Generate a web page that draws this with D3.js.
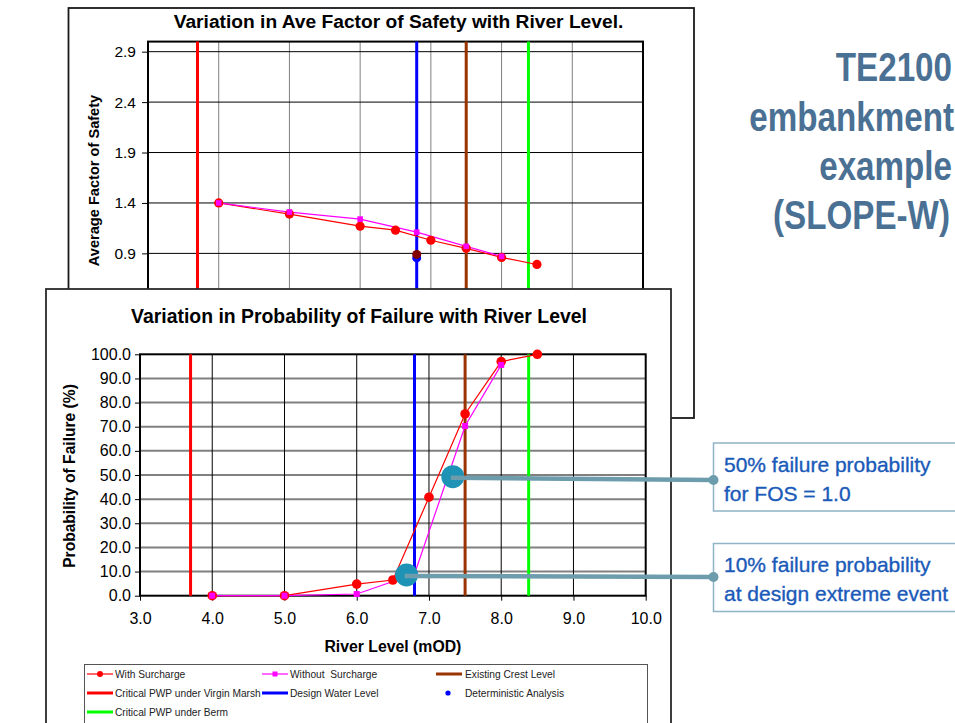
<!DOCTYPE html>
<html><head><meta charset="utf-8">
<script src="https://cdn.jsdelivr.net/npm/d3@7/dist/d3.min.js"></script>
<style>
body{margin:0;background:#fff}
svg{display:block}
text{font-family:"Liberation Sans",Arial,Helvetica,sans-serif}
</style>
</head><body>
<svg id="c" width="955" height="723"></svg>
<script>
// ---------- DATA ----------
const riverWith      = [4.0, 5.0, 6.0, 6.5, 7.0, 7.5, 8.0, 8.5];
const fosWith        = [1.40, 1.29, 1.17, 1.13, 1.03, 0.95, 0.86, 0.79];
const pofWith        = [0, 0, 4.8, 6.5, 40.8, 75.3, 97.0, 100.0];
const riverWithout   = [4.0, 5.0, 6.0, 6.8, 7.5, 8.0];
const fosWithout     = [1.40, 1.31, 1.24, 1.11, 0.97, 0.87];
const pofWithout     = [0, 0, 0.7, 9.0, 70.3, 95.6];
const detLevel       = [6.8];
const detFos         = [0.855];
const detFosSurch    = [0.89];
const refNames       = ["Critical PWP under Virgin Marsh", "Design Water Level", "Existing Crest Level", "Critical PWP under Berm"];
const refLevels      = [3.7, 6.8, 7.5, 8.38];
const levelTicks     = [3.0, 4.0, 5.0, 6.0, 7.0, 8.0, 9.0, 10.0];
const fosTicks       = [0.4, 0.9, 1.4, 1.9, 2.4, 2.9];
const pofTicks       = [0, 10, 20, 30, 40, 50, 60, 70, 80, 90, 100];
const calloutLevel   = [7.33, 6.69];
const calloutPof     = [49.3, 8.6];
const calloutText    = [["50% failure probability", "for FOS = 1.0"], ["10% failure probability", "at design extreme event"]];
const sideTitle      = ["TE2100", "embankment", "example", "(SLOPE-W)"];
const titleTop       = "Variation in Ave Factor of Safety with River Level.";
const titleBottom    = "Variation in Probability of Failure with River Level";

// ---------- STYLE ----------
const refColors = ["#ff0000", "#0000ff", "#993300", "#00ff00"];
const RED = "#ff0000", MAG = "#ff00ff";

const svg = d3.select("#c");

// ================= TOP CHART =================
svg.append("rect").attr("x", 68.5).attr("y", 8).attr("width", 625.5).attr("height", 410)
  .attr("fill", "#fff").attr("stroke", "#1a1a1a").attr("stroke-width", 1.8);

const xT = d3.scaleLinear().domain([3, 10]).range([148, 643]);
const yT = d3.scaleLinear().domain([0.4, 3.0]).range([303.8, 41.6]);
const gT = svg.append("g");

gT.selectAll("line.vg").data(levelTicks.slice(1, -1)).join("line")
  .attr("x1", d => xT(d)).attr("x2", d => xT(d)).attr("y1", yT(3.0)).attr("y2", yT(0.4))
  .attr("stroke", "#808080").attr("stroke-width", 1);
gT.selectAll("line.hg").data(fosTicks).join("line")
  .attr("x1", xT(3)).attr("x2", xT(10)).attr("y1", d => yT(d)).attr("y2", d => yT(d))
  .attr("stroke", "#000").attr("stroke-width", 1);
gT.append("rect").attr("x", xT(3)).attr("y", yT(3.0)).attr("width", xT(10) - xT(3)).attr("height", yT(0.4) - yT(3.0))
  .attr("fill", "none").attr("stroke", "#000").attr("stroke-width", 2);

const axT = gT.append("g").attr("transform", `translate(${xT(3)},0)`)
  .call(d3.axisLeft(yT).tickValues(fosTicks).tickSize(6).tickPadding(6).tickFormat(d3.format(".1f")));
axT.select(".domain").remove();
axT.selectAll("line").attr("stroke", "#000");
axT.selectAll("text").attr("font-size", 15.5).attr("fill", "#000").attr("font-family", "Liberation Sans, Arial, sans-serif");

gT.selectAll("line.ref").data(refLevels).join("line")
  .attr("x1", d => xT(d)).attr("x2", d => xT(d)).attr("y1", yT(3.0)).attr("y2", yT(0.4))
  .attr("stroke", (d, i) => refColors[i]).attr("stroke-width", 3);

const lineT = d3.line().x(d => xT(d[0])).y(d => yT(d[1]));
const withT = riverWith.map((r, i) => [r, fosWith[i]]);
const withoutT = riverWithout.map((r, i) => [r, fosWithout[i]]);
gT.append("path").attr("d", lineT(withT)).attr("fill", "none").attr("stroke", RED).attr("stroke-width", 1.2);
gT.append("path").attr("d", lineT(withoutT)).attr("fill", "none").attr("stroke", MAG).attr("stroke-width", 1.2);
gT.selectAll("circle.w").data(withT).join("circle")
  .attr("cx", d => xT(d[0])).attr("cy", d => yT(d[1])).attr("r", 4.6).attr("fill", RED);
gT.selectAll("rect.wo").data(withoutT).join("rect")
  .attr("x", d => xT(d[0]) - 2.8).attr("y", d => yT(d[1]) - 2.8).attr("width", 5.6).attr("height", 5.6).attr("fill", MAG);
gT.selectAll("circle.det").data(detLevel).join("circle")
  .attr("cx", d => xT(d)).attr("cy", (d, i) => yT(detFos[i])).attr("r", 4.5).attr("fill", "#0000ff");
gT.selectAll("circle.dets").data(detLevel).join("circle")
  .attr("cx", d => xT(d)).attr("cy", (d, i) => yT(detFosSurch[i])).attr("r", 4.5).attr("fill", "#800000");

svg.append("text").attr("x", 398.5).attr("y", 28).attr("text-anchor", "middle")
  .attr("font-size", 19.2).attr("font-weight", "bold").attr("fill", "#000").text(titleTop);
svg.append("text").attr("transform", "translate(99,180.5) rotate(-90)").attr("text-anchor", "middle")
  .attr("font-size", 14.6).attr("font-weight", "bold").attr("fill", "#000").text("Average Factor of Safety");

// ================= BOTTOM CHART =================
svg.append("rect").attr("x", 46).attr("y", 289).attr("width", 625).attr("height", 460)
  .attr("fill", "#fff").attr("stroke", "#2a2a2a").attr("stroke-width", 1.8);

const xB = d3.scaleLinear().domain([3, 10]).range([140, 645.7]);
const yB = d3.scaleLinear().domain([0, 100]).range([595.7, 354.3]);
const gB = svg.append("g");

gB.selectAll("line.hg").data(pofTicks.slice(1, -1)).join("line")
  .attr("x1", xB(3)).attr("x2", xB(10)).attr("y1", d => yB(d)).attr("y2", d => yB(d))
  .attr("stroke", "#808080").attr("stroke-width", 2);
gB.selectAll("line.vg").data(levelTicks.slice(1, -1)).join("line")
  .attr("x1", d => xB(d)).attr("x2", d => xB(d)).attr("y1", yB(100)).attr("y2", yB(0))
  .attr("stroke", "#000").attr("stroke-width", 1);
gB.append("rect").attr("x", xB(3)).attr("y", yB(100)).attr("width", xB(10) - xB(3)).attr("height", yB(0) - yB(100))
  .attr("fill", "none").attr("stroke", "#000").attr("stroke-width", 2);

const axBy = gB.append("g").attr("transform", `translate(${xB(3)},0)`)
  .call(d3.axisLeft(yB).tickValues(pofTicks).tickSize(5).tickPadding(4).tickFormat(d3.format(".1f")));
axBy.select(".domain").remove();
axBy.selectAll("line").attr("stroke", "#000");
axBy.selectAll("text").attr("font-size", 16).attr("fill", "#000").attr("font-family", "Liberation Sans, Arial, sans-serif");

const axBx = gB.append("g").attr("transform", `translate(0,${yB(0)})`)
  .call(d3.axisBottom(xB).tickValues(levelTicks).tickSize(5).tickPadding(12).tickFormat(d3.format(".1f")));
axBx.select(".domain").remove();
axBx.selectAll("line").attr("stroke", "#000");
axBx.selectAll("text").attr("font-size", 16).attr("fill", "#000").attr("font-family", "Liberation Sans, Arial, sans-serif");

gB.selectAll("line.ref").data(refLevels).join("line")
  .attr("x1", d => xB(d)).attr("x2", d => xB(d)).attr("y1", yB(100)).attr("y2", yB(0))
  .attr("stroke", (d, i) => refColors[i]).attr("stroke-width", 3);

const lineB = d3.line().x(d => xB(d[0])).y(d => yB(d[1]));
const withB = riverWith.map((r, i) => [r, pofWith[i]]);
const withoutB = riverWithout.map((r, i) => [r, pofWithout[i]]);
gB.append("path").attr("d", lineB(withB)).attr("fill", "none").attr("stroke", RED).attr("stroke-width", 1.2);
gB.append("path").attr("d", lineB(withoutB)).attr("fill", "none").attr("stroke", MAG).attr("stroke-width", 1.2);
gB.selectAll("circle.w").data(withB).join("circle")
  .attr("cx", d => xB(d[0])).attr("cy", d => yB(d[1])).attr("r", 4.8).attr("fill", RED);
gB.selectAll("rect.wo").data(withoutB).join("rect")
  .attr("x", d => xB(d[0]) - 3).attr("y", d => yB(d[1]) - 3).attr("width", 6).attr("height", 6).attr("fill", MAG);

svg.append("text").attr("x", 359).attr("y", 323.3).attr("text-anchor", "middle")
  .attr("font-size", 19.4).attr("font-weight", "bold").attr("fill", "#000").text(titleBottom);
svg.append("text").attr("transform", "translate(75,476) rotate(-90)").attr("text-anchor", "middle")
  .attr("font-size", 15.6).attr("font-weight", "bold").attr("fill", "#000").text("Probability of Failure (%)");
svg.append("text").attr("x", 392.9).attr("y", 651.5).attr("text-anchor", "middle")
  .attr("font-size", 15.8).attr("font-weight", "bold").attr("fill", "#000").text("River Level (mOD)");

// ---------- Legend ----------
svg.append("rect").attr("x", 84.5).attr("y", 664.5).attr("width", 563).attr("height", 80)
  .attr("fill", "#fff").attr("stroke", "#555").attr("stroke-width", 1);
const legendItems = [
  {label: "With Surcharge", type: "series", color: RED, marker: "circle"},
  {label: "Without  Surcharge", type: "series", color: MAG, marker: "square"},
  {label: refNames[2], type: "ref", color: refColors[2]},
  {label: refNames[0], type: "ref", color: refColors[0]},
  {label: refNames[1], type: "ref", color: refColors[1]},
  {label: "Deterministic Analysis", type: "dot", color: "#0000ff"},
  {label: refNames[3], type: "ref", color: refColors[3]}
];
const legSampleX = [87, 262, 436], legTextX = [115, 290, 465], legRowY = [674, 693, 712];
legendItems.forEach((it, i) => {
  const col = i % 3, row = Math.floor(i / 3);
  const x0 = legSampleX[col], y = legRowY[row], x1 = x0 + 26;
  const g = svg.append("g");
  if (it.type === "series") {
    g.append("line").attr("x1", x0).attr("x2", x1).attr("y1", y).attr("y2", y).attr("stroke", it.color).attr("stroke-width", 1.2);
    if (it.marker === "circle") g.append("circle").attr("cx", (x0 + x1) / 2).attr("cy", y).attr("r", 3).attr("fill", it.color);
    else g.append("rect").attr("x", (x0 + x1) / 2 - 2.5).attr("y", y - 2.5).attr("width", 5).attr("height", 5).attr("fill", it.color);
  } else if (it.type === "ref") {
    g.append("line").attr("x1", x0).attr("x2", x1).attr("y1", y).attr("y2", y).attr("stroke", it.color).attr("stroke-width", 3);
  } else {
    g.append("circle").attr("cx", x0 + 12).attr("cy", y).attr("r", 2.6).attr("fill", it.color);
  }
  g.append("text").attr("x", legTextX[col]).attr("y", y + 3.6).attr("font-size", 10.2).attr("fill", "#222")
    .style("white-space", "pre").text(it.label);
});

// ---------- Callouts ----------
const boxY = [443, 543.5], boxH = 68, boxX = 713.5;
const connY = [480, 577];
calloutLevel.forEach((lv, i) => {
  svg.append("rect").attr("x", boxX).attr("y", boxY[i]).attr("width", 260).attr("height", boxH)
    .attr("fill", "#fff").attr("stroke", "#8fb4c7").attr("stroke-width", 1.5);
  calloutText[i].forEach((t, j) => {
    svg.append("text").attr("x", 724).attr("y", boxY[i] + 28.7 + j * 29).attr("font-size", 21)
      .attr("fill", "#1a5ab9").attr("stroke", "#1a5ab9").attr("stroke-width", 0.35).text(t);
  });
  const cx = xB(lv), cy = yB(calloutPof[i]);
  svg.append("circle").attr("cx", cx).attr("cy", cy).attr("r", 11.5).attr("fill", "#1e93b6");
  svg.append("line").attr("x1", cx - 2).attr("y1", cy + 1).attr("x2", boxX).attr("y2", connY[i])
    .attr("stroke", "#6d9cac").attr("stroke-width", 4.5);
  svg.append("circle").attr("cx", boxX).attr("cy", connY[i]).attr("r", 5).attr("fill", "#6d9cac");
});

// ---------- Side title ----------
const sideBase = [81, 131, 180, 229];
const sideRight = [952, 954, 952, 950];
sideTitle.forEach((t, i) => {
  svg.append("g").attr("transform", `translate(${sideRight[i]},${sideBase[i]}) scale(0.8,1)`)
    .append("text").attr("text-anchor", "end").attr("font-size", 41.5).attr("font-weight", "bold")
    .attr("fill", "#4a7094").text(t);
});
</script>
</body></html>
